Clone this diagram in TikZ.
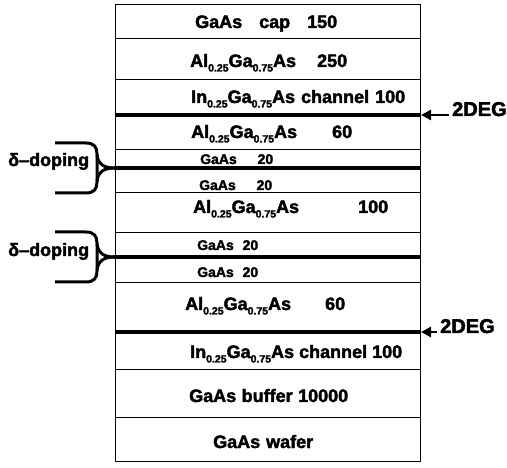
\documentclass[tikz,border=0pt]{standalone}
\usepackage{fontspec}
\setmainfont{Liberation Sans}[BoldFeatures={FakeBold=2.2}]
\usetikzlibrary{arrows.meta}
\newcommand\sbs[1]{\raisebox{-4.5pt}{\fontsize{10.5}{10.5}\selectfont #1}}
\newcommand\alga{Al\sbs{0.25}Ga\sbs{0.75}As}
\newcommand\inga{In\sbs{0.25}Ga\sbs{0.75}As}
\begin{document}
\begin{tikzpicture}[x=1pt,y=-1pt,
  big/.style={font=\fontsize{18}{20}\selectfont\bfseries, inner sep=0pt, anchor=base west},
  small/.style={font=\fontsize{14}{16}\selectfont\bfseries, inner sep=0pt, anchor=base west},
  degtext/.style={font=\fontsize{20}{22}\selectfont\bfseries, inner xsep=3pt, inner ysep=0pt, anchor=base west},
  layerline/.style={line width=1pt},
  heavyline/.style={line width=3.2pt},
  bracestroke/.style={line width=3pt},
  degarrow/.style={line width=2.4pt, -{Triangle[length=10pt,width=10pt]}},
]
\useasboundingbox (0,0) rectangle (507,468);
\fill[white] (0,0) rectangle (507,468);

% box and layer boundaries
\draw[layerline] (115,5) rectangle (420,461);
\foreach \yy in {39,80,150,193,233,283,370,418}
  \draw[layerline] (115,\yy) -- (420,\yy);
\draw[heavyline] (115,115) -- (420,115);
\draw[heavyline] (115,332) -- (420,332);

% delta-doping braces
\begin{scope}[shift={(0,168)}]
  \coordinate (tipA) at (114,0);
  \draw[bracestroke] (55,-25) -- (86,-25) .. controls (94,-25) and (97,-21) .. (97,-14) -- (97,14) .. controls (97,21) and (94,25) .. (86,25) -- (55,25);
  \draw[bracestroke] (97,-13) .. controls (98,-4) and (104,0) .. (tipA);
  \draw[bracestroke] (97,13) .. controls (98,4) and (104,0) .. (tipA);
\end{scope}
\begin{scope}[shift={(0,257)}]
  \coordinate (tipB) at (114,0);
  \draw[bracestroke] (55,-25) -- (86,-25) .. controls (94,-25) and (97,-21) .. (97,-14) -- (97,14) .. controls (97,21) and (94,25) .. (86,25) -- (55,25);
  \draw[bracestroke] (97,-13) .. controls (98,-4) and (104,0) .. (tipB);
  \draw[bracestroke] (97,13) .. controls (98,4) and (104,0) .. (tipB);
\end{scope}
\draw[heavyline] (tipA) -- (420,168);
\draw[heavyline] (tipB) -- (420,257);

\node[big] (dd1) at (8,166) {δ--doping};
\node[big] (dd2) at (8,256) {δ--doping};

% layer labels
\node[big] (l1) at (195,28) {\hbox to 142pt{GaAs\hfill cap\hfill 150}};
\node[big] (l2) at (190,67) {\hbox to 157pt{\alga\hfill 250}};
\node[big] (l3) at (191,103) {\hbox to 214pt{\inga\hfill channel\hfill 100}};
\node[big] (l4) at (191,138) {\hbox to 161pt{\alga\hfill 60}};
\node[small] (l5) at (200,164) {\hbox to 73pt{GaAs\hfill 20}};
\node[small] (l6) at (199,190) {\hbox to 73pt{GaAs\hfill 20}};
\node[big] (l7) at (193,213) {\hbox to 195pt{\alga\hfill 100}};
\node[small] (l8) at (197,250) {\hbox to 61pt{GaAs\hfill 20}};
\node[small] (l9) at (197,277) {\hbox to 61pt{GaAs\hfill 20}};
\node[big] (l10) at (185,310) {\hbox to 160pt{\alga\hfill 60}};
\node[big] (l11) at (190,358) {\hbox to 212pt{\inga\hfill channel\hfill 100}};
\node[big] (l12) at (189,402) {\hbox to 159pt{GaAs\hfill buffer\hfill 10000}};
\node[big] (l13) at (213,448) {\hbox to 100pt{GaAs\hfill wafer}};

% 2DEG labels and arrows
\node[degtext] (deg1) at (449,116) {2DEG};
\coordinate (e1) at (421,115);
\draw[degarrow] (deg1.west |- e1) -- (e1);
\node[degtext] (deg2) at (437,333) {2DEG};
\coordinate (e2) at (421,332);
\draw[degarrow] (deg2.west |- e2) -- (e2);
\end{tikzpicture}
\end{document}
